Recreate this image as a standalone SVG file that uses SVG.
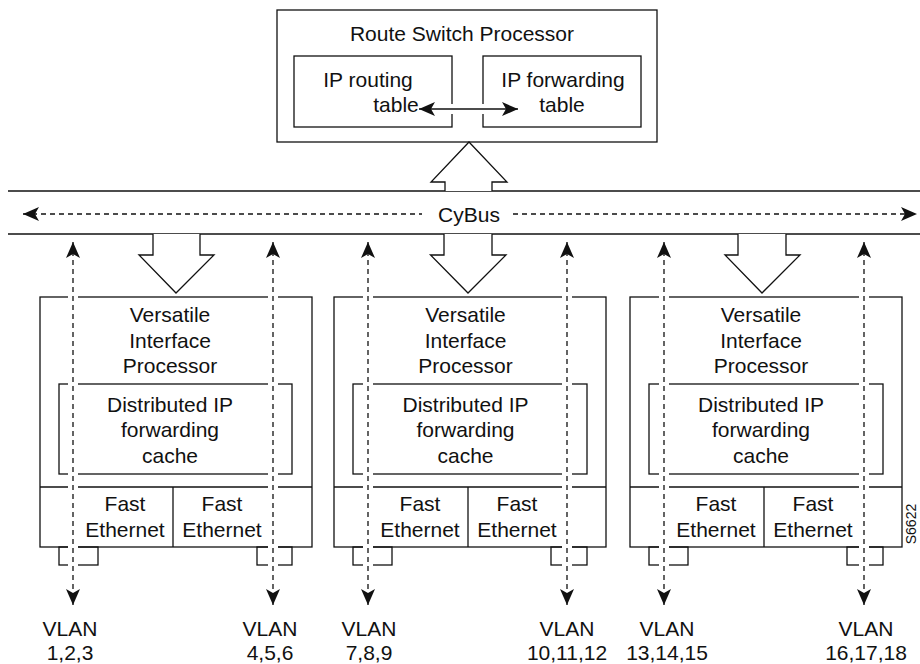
<svg xmlns="http://www.w3.org/2000/svg" width="920" height="664" viewBox="0 0 920 664">
<style>
.box{fill:none;stroke:#111;stroke-width:1.3}
.hol{fill:#fff;stroke:#111;stroke-width:1.3;stroke-linejoin:miter}
.bus{stroke:#111;stroke-width:1.3}
.t{font-family:"Liberation Sans",Arial,Helvetica,sans-serif;font-size:21px;fill:#111;text-anchor:middle}
.s{font-size:14px}
.halo{stroke:#fff;stroke-width:10;fill:none}
.dash{stroke:#111;stroke-width:1.3;stroke-dasharray:5,4;fill:none}
.solid{stroke:#111;stroke-width:1.3;fill:none}
</style>
<defs>
<marker id="ah" viewBox="0 0 16 14" refX="16" refY="7" markerWidth="16" markerHeight="14" markerUnits="userSpaceOnUse" orient="auto-start-reverse">
<path d="M0,0 L16,7 L0,14 L4,7 Z" fill="#111"/>
</marker>
</defs>
<rect width="920" height="664" fill="#fff"/>

<g id="rsp">
<rect class="box" x="277" y="10" width="380" height="132"/>
<text class="t" x="462" y="41">Route Switch Processor</text>
</g>
<g id="ip-routing-table">
<rect class="box" x="294" y="56" width="158" height="71"/>
<text class="t" x="368" y="87">IP routing</text>
<text class="t" x="396" y="112">table</text>
</g>
<g id="ip-forwarding-table">
<rect class="box" x="483" y="56" width="158" height="71"/>
<text class="t" x="563" y="87">IP forwarding</text>
<text class="t" x="562" y="112">table</text>
</g>

<g id="cybus">
<line class="bus" x1="8" y1="191" x2="920" y2="191"/>
<line class="bus" x1="8" y1="234" x2="920" y2="234"/>
<text class="t" x="469" y="222">CyBus</text>
</g>

<g id="vip1">
<rect class="box" x="40" y="297" width="272" height="250"/>
<rect class="box" x="59" y="384" width="233" height="90"/>
<line class="solid" x1="40" y1="487" x2="312" y2="487"/>
<line class="solid" x1="173" y1="487" x2="173" y2="547"/>
<rect class="box" x="59" y="547" width="39" height="18"/>
<rect class="box" x="257" y="547" width="35" height="18"/>
<text class="t" x="170" y="322">Versatile</text>
<text class="t" x="170" y="348">Interface</text>
<text class="t" x="170" y="373">Processor</text>
<text class="t" x="170" y="412">Distributed IP</text>
<text class="t" x="170" y="437">forwarding</text>
<text class="t" x="170" y="463">cache</text>
<text class="t" x="125" y="511">Fast</text>
<text class="t" x="125" y="537">Ethernet</text>
<text class="t" x="222" y="511">Fast</text>
<text class="t" x="222" y="537">Ethernet</text>
</g>

<g id="vip2">
<rect class="box" x="334" y="297" width="272" height="250"/>
<rect class="box" x="353" y="384" width="234" height="90"/>
<line class="solid" x1="334" y1="487" x2="606" y2="487"/>
<line class="solid" x1="468" y1="487" x2="468" y2="547"/>
<rect class="box" x="353" y="547" width="39" height="18"/>
<rect class="box" x="551" y="547" width="36" height="18"/>
<text class="t" x="465.5" y="322">Versatile</text>
<text class="t" x="465.5" y="348">Interface</text>
<text class="t" x="465.5" y="373">Processor</text>
<text class="t" x="465.5" y="412">Distributed IP</text>
<text class="t" x="465.5" y="437">forwarding</text>
<text class="t" x="465.5" y="463">cache</text>
<text class="t" x="420" y="511">Fast</text>
<text class="t" x="420" y="537">Ethernet</text>
<text class="t" x="517" y="511">Fast</text>
<text class="t" x="517" y="537">Ethernet</text>
</g>

<g id="vip3">
<rect class="box" x="630" y="297" width="272" height="250"/>
<rect class="box" x="649" y="384" width="234" height="90"/>
<line class="solid" x1="630" y1="487" x2="902" y2="487"/>
<line class="solid" x1="764" y1="487" x2="764" y2="547"/>
<rect class="box" x="649" y="547" width="39" height="18"/>
<rect class="box" x="847" y="547" width="36" height="18"/>
<text class="t" x="761" y="322">Versatile</text>
<text class="t" x="761" y="348">Interface</text>
<text class="t" x="761" y="373">Processor</text>
<text class="t" x="761" y="412">Distributed IP</text>
<text class="t" x="761" y="437">forwarding</text>
<text class="t" x="761" y="463">cache</text>
<text class="t" x="716" y="511">Fast</text>
<text class="t" x="716" y="537">Ethernet</text>
<text class="t" x="813" y="511">Fast</text>
<text class="t" x="813" y="537">Ethernet</text>
</g>

<g id="vlans">
<text class="t" x="70" y="636">VLAN</text><text class="t" x="70" y="660">1,2,3</text>
<text class="t" x="270" y="636">VLAN</text><text class="t" x="270" y="660">4,5,6</text>
<text class="t" x="369" y="636">VLAN</text><text class="t" x="369" y="660">7,8,9</text>
<text class="t" x="567" y="636">VLAN</text><text class="t" x="567" y="660">10,11,12</text>
<text class="t" x="667" y="636">VLAN</text><text class="t" x="667" y="660">13,14,15</text>
<text class="t" x="866" y="636">VLAN</text><text class="t" x="866" y="660">16,17,18</text>
</g>

<g id="label">
<text class="t s" x="916" y="524" transform="rotate(-90 916 524)">S6622</text>
</g>

<g id="connectors">
<line class="halo" x1="440" y1="109" x2="495" y2="109" stroke-width="12"/>
<line class="solid" x1="419" y1="109" x2="518" y2="109" marker-start="url(#ah)" marker-end="url(#ah)"/>
<path class="hol" d="M445,191 L445,182 L431,182 L469,142 L507,182 L492,182 L492,191"/>
<path class="hol" d="M153,234 L153,255 L139,255 L176,293 L214,255 L200,255 L200,234"/>
<path class="hol" d="M444,234 L444,255 L430.5,255 L468,293 L506,255 L492,255 L492,234"/>
<path class="hol" d="M738,234 L738,255 L725,255 L762,293 L800,255 L786,255 L786,234"/>
<line class="dash" x1="23" y1="214" x2="422" y2="214" marker-start="url(#ah)"/>
<line class="dash" x1="513" y1="214" x2="917" y2="214" marker-end="url(#ah)"/>
<g>
<line class="halo" x1="73" y1="260" x2="73" y2="590"/>
<line class="halo" x1="273" y1="260" x2="273" y2="590"/>
<line class="halo" x1="368" y1="260" x2="368" y2="590"/>
<line class="halo" x1="567" y1="260" x2="567" y2="590"/>
<line class="halo" x1="664" y1="260" x2="664" y2="590"/>
<line class="halo" x1="864" y1="260" x2="864" y2="590"/>
</g>
<line class="dash" x1="73" y1="242" x2="73" y2="605" marker-start="url(#ah)" marker-end="url(#ah)"/>
<line class="dash" x1="273" y1="242" x2="273" y2="605" marker-start="url(#ah)" marker-end="url(#ah)"/>
<line class="dash" x1="368" y1="242" x2="368" y2="605" marker-start="url(#ah)" marker-end="url(#ah)"/>
<line class="dash" x1="567" y1="242" x2="567" y2="605" marker-start="url(#ah)" marker-end="url(#ah)"/>
<line class="dash" x1="664" y1="242" x2="664" y2="605" marker-start="url(#ah)" marker-end="url(#ah)"/>
<line class="dash" x1="864" y1="242" x2="864" y2="605" marker-start="url(#ah)" marker-end="url(#ah)"/>
</g>
</svg>
